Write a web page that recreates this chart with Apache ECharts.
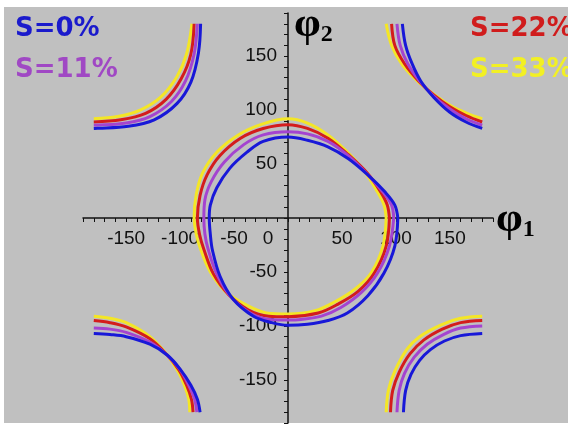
<!DOCTYPE html>
<html>
<head>
<meta charset="utf-8">
<script src="https://cdn.jsdelivr.net/npm/echarts@6/dist/echarts.min.js"></script>
<style>
html,body{margin:0;padding:0;background:#fff;}
#chart{width:568px;height:426px;}
</style>
</head>
<body>
<div id="chart"></div>
<script>
// ---- data (degrees) ----
const seriesNames = ['S=0%', 'S=11%', 'S=22%', 'S=33%'];
const xLabelTicks = [-150, -100, -50, 0, 50, 100, 150];
const yLabelTicks = [-150, -100, -50, 50, 100, 150];

// S=0%
const s0Center = [[101.8,0],[99,12],[90,24],[74,40],[56,55],[37,66],[18,72],[0,75],[-23,71],[-38,61],[-54,46],[-66,28],[-72,12],[-73,0],[-72,-15],[-70,-30],[-63,-54],[-51,-75],[-32,-91],[-15,-97],[0,-99.5],[18,-98.5],[37,-95],[55,-88],[74,-72],[89,-51],[99,-26],[101.8,0]];
const s0TL = [[-81,180],[-83,153],[-90,126],[-103,106],[-124,91],[-148,85],[-180,83]];
const s0TR = [[106,180],[109,160],[115,143],[123,127],[135,112],[150,98],[165,89],[180,83]];
const s0BL = [[-180,-107],[-165,-108],[-150,-110],[-128,-117],[-112,-127],[-100,-140],[-90,-155],[-84,-168],[-81.5,-180]];
const s0BR = [[107,-180],[109,-160],[114,-145],[122,-132],[132,-122],[145,-114],[160,-109],[180,-107]];

// S=11%
const s11Center = [[98,0],[96,12],[88,24],[74,40],[55.5,58],[37,71],[18,78],[0,80],[-23,77],[-41,68],[-59,52],[-71,34],[-77,17],[-78,0],[-77,-15],[-74,-29],[-66,-52],[-53,-73],[-35,-88],[-17,-94],[0,-94.5],[12,-94],[31,-91],[49,-83],[68,-69],[83,-51],[94,-26],[98,0]];
const s11TL = [[-84,180],[-87,152],[-95,127],[-108,108],[-128,94],[-150,88],[-180,86]];
const s11TR = [[101,180],[104,160],[111,143],[122,127],[135,113],[150,101],[165,92],[180,86]];
const s11BL = [[-180,-102],[-165,-103],[-150,-106],[-128,-115],[-112,-127],[-100,-140.5],[-92,-155],[-86.5,-168],[-84.5,-180]];
const s11BR = [[101,-180],[103,-160],[108,-144],[117,-129],[129,-117],[144,-108],[160,-102],[180,-100]];

// S=22%
const s22Center = [[94,0],[92,12],[86,24],[74,41],[55.5,59],[37,74],[18,83],[0,86.5],[-23,83],[-44,74],[-63,58],[-75,40],[-81.5,21],[-84,0],[-82,-15],[-78,-29],[-69,-52],[-55,-71],[-37,-85],[-18,-91],[0,-91.5],[28,-88],[46,-80],[65,-68],[80,-51],[91,-26],[94,0]];
const s22TL = [[-87,180],[-90,152],[-99,129],[-113,110],[-132,97],[-155,91],[-180,89]];
const s22TR = [[96,180],[99,160],[108,143],[121,127],[135,114],[150,103],[165,95],[180,89]];
const s22BL = [[-180,-95],[-165,-97],[-150,-101],[-128,-112],[-112,-127],[-101,-141],[-94,-155],[-89.5,-168],[-88,-180]];
const s22BR = [[95,-180],[97,-160],[103,-143],[113,-126],[126,-113],[143,-103],[160,-97],[180,-95]];

// S=33%
const s33Center = [[91,0],[89,12],[83,24],[71,43],[55,61],[37,77],[18,88],[0,92],[-24,87],[-46,77],[-66,61],[-79,42],[-85,22],[-87,0],[-85,-15],[-81,-29],[-72,-50],[-57,-69],[-38,-81],[-20,-88],[0,-89],[25,-86],[43,-78],[62,-66],[77,-51],[88,-26],[91,0]];
const s33TL = [[-89,180],[-94,152],[-103,131],[-118,112],[-137,100],[-158,94],[-180,92]];
const s33TR = [[91,180],[96,160],[106,142],[121,126],[136,114],[151,104],[166,97],[180,92]];
const s33BL = [[-180,-91],[-165,-93],[-150,-97],[-128,-110],[-112,-127],[-102,-142],[-96,-155],[-92,-168],[-91,-180]];
const s33BR = [[91,-180],[93,-160],[99,-142],[110,-122],[122,-110],[142,-99],[160,-93],[180,-91]];

// ---- styling ----
const colors = {'S=0%':'#1818d8','S=11%':'#a444d0','S=22%':'#d41c1c','S=33%':'#f4e626'};
const textColors = {'S=0%':'#1a1acc','S=11%':'#a048c4','S=22%':'#d01c1c','S=33%':'#f2f024'};

const groups = [
  ['S=33%', [s33Center, s33TL, s33TR, s33BL, s33BR]],
  ['S=22%', [s22Center, s22TL, s22TR, s22BL, s22BR]],
  ['S=11%', [s11Center, s11TL, s11TR, s11BL, s11BR]],
  ['S=0%',  [s0Center,  s0TL,  s0TR,  s0BL,  s0BR]]
];

const series = [];
groups.forEach(function(g, gi){
  g[1].forEach(function(d){
    series.push({
      type:'line', name:g[0], data:d, showSymbol:false, symbol:'none',
      smooth:0.35, clip:false, z:2+gi,
      lineStyle:{color:colors[g[0]], width:3},
      itemStyle:{color:colors[g[0]]},
      animation:false, silent:true
    });
  });
});

function legendItem(n){ return {name:n, textStyle:{color:textColors[n]}}; }

const chart = echarts.init(document.getElementById('chart'), null, {renderer:'canvas'});
chart.setOption({
  backgroundColor:'#ffffff',
  animation:false,
  graphic:[
    {type:'rect', z:-10, silent:true, shape:{x:4, y:7, width:564, height:416}, style:{fill:'#c0c0c0'}},
    {type:'text', z:50, left:496, top:198, style:{
      text:'{a|φ}{b|1}',
      rich:{a:{fontFamily:'Liberation Serif', fontWeight:'bold', fontSize:43, fill:'#000'},
            b:{fontFamily:'Liberation Serif', fontWeight:'bold', fontSize:24, fill:'#000', padding:[20,0,0,0]}}
    }},
    {type:'text', z:50, left:294, top:3, style:{
      text:'{a|φ}{b|2}',
      rich:{a:{fontFamily:'Liberation Serif', fontWeight:'bold', fontSize:43, fill:'#000'},
            b:{fontFamily:'Liberation Serif', fontWeight:'bold', fontSize:24, fill:'#000', padding:[20,0,0,0]}}
    }}
  ],
  legend:[
    {orient:'vertical', left:5, top:9, itemGap:11, itemWidth:0, itemHeight:0,
     icon:'rect', itemStyle:{opacity:0}, lineStyle:{opacity:0}, selectedMode:false,
     textStyle:{fontFamily:'DejaVu Sans', fontWeight:'bold', fontSize:26, lineHeight:30},
     data:[legendItem('S=0%'), legendItem('S=11%')]},
    {orient:'vertical', left:460, top:9, itemGap:11, itemWidth:0, itemHeight:0,
     icon:'rect', itemStyle:{opacity:0}, lineStyle:{opacity:0}, selectedMode:false,
     textStyle:{fontFamily:'DejaVu Sans', fontWeight:'bold', fontSize:26, lineHeight:30},
     data:[legendItem('S=22%'), legendItem('S=33%')]}
  ],
  grid:{left:83, top:13, width:410, height:410, containLabel:false, outerBoundsMode:'none'},
  xAxis:{
    type:'value', min:-190, max:190, interval:10, position:'bottom', offset:-205,
    axisLine:{onZero:false, lineStyle:{color:'#111', width:1.5}},
    axisTick:{show:true, length:4, lineStyle:{color:'#111', width:1}},
    splitLine:{show:false},
    axisLabel:{
      interval:0, margin:11, color:'#111', fontFamily:'Liberation Sans', fontSize:19,
      showMinLabel:true, showMaxLabel:true, hideOverlap:false,
      formatter:function(v){
        if (xLabelTicks.indexOf(v) < 0) return '';
        if (v === 0) return '{z|0}';
        return String(v);
      },
      rich:{z:{fontFamily:'Liberation Sans', fontSize:19, color:'#111', padding:[0,40,0,0]}}
    }
  },
  yAxis:{
    type:'value', min:-190, max:190, interval:10, position:'left', offset:-205,
    axisLine:{onZero:false, lineStyle:{color:'#111', width:1.5}},
    axisTick:{show:true, length:4, lineStyle:{color:'#111', width:1}},
    splitLine:{show:false},
    axisLabel:{
      interval:0, margin:11, color:'#111', fontFamily:'Liberation Sans', fontSize:19,
      hideOverlap:false,
      formatter:function(v){
        if (yLabelTicks.indexOf(v) < 0) return '';
        return String(v);
      }
    }
  },
  series:series
});
</script>
</body>
</html>
